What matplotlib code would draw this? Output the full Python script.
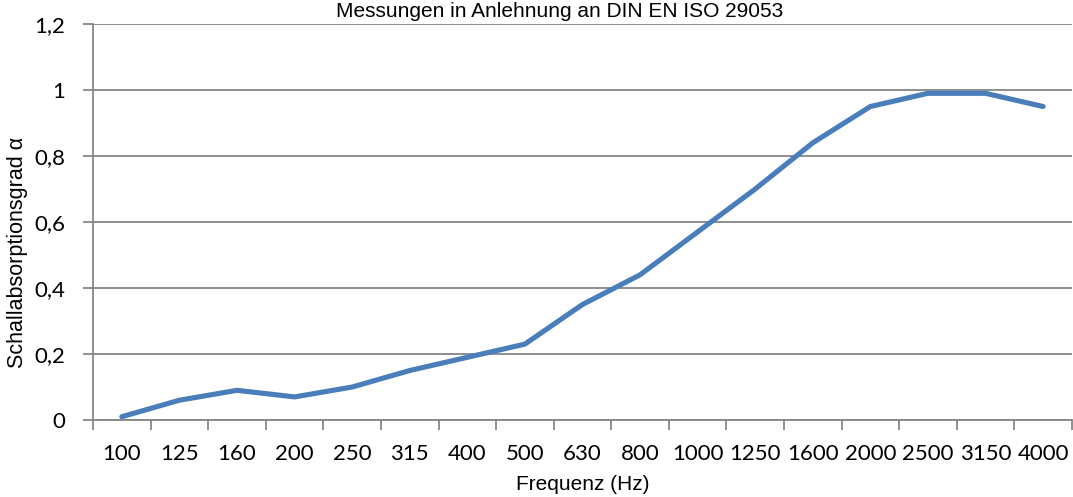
import matplotlib
matplotlib.use("Agg")
import matplotlib.pyplot as plt
from matplotlib.ticker import FixedLocator, FuncFormatter

# Schallabsorptionsgrad je Terzband
freqs = ["100", "125", "160", "200", "250", "315", "400", "500", "630",
         "800", "1000", "1250", "1600", "2000", "2500", "3150", "4000"]
alpha = [0.01, 0.06, 0.09, 0.07, 0.10, 0.15, 0.19, 0.23, 0.35,
         0.44, 0.57, 0.70, 0.84, 0.95, 0.99, 0.99, 0.95]
y_ticks = [0, 0.2, 0.4, 0.6, 0.8, 1.0, 1.2]

_LINE = "#4a7ebb"
_GRID = "#868686"
_TICK_FONT = "Lato"
_TEXT_FONT = "Liberation Sans"

fig = plt.figure(figsize=(10.73, 4.97), dpi=100)
ax = fig.add_axes([0.0867, 0.1549, 0.9123, 0.7968])

xs = list(range(len(freqs)))
ax.plot(xs, alpha, color=_LINE, linewidth=3.7, solid_joinstyle="round",
        solid_capstyle="round", zorder=3)

ax.set_xlim(-0.5, len(freqs) - 0.5)
ax.set_ylim(0, 1.2)

# category labels centred, tick marks between categories (Excel style)
ax.set_xticks(xs, freqs)
ax.xaxis.set_minor_locator(FixedLocator([i - 0.5 for i in range(len(freqs) + 1)]))
ax.tick_params(axis="x", which="major", length=0, pad=17)
ax.tick_params(axis="x", which="minor", length=7, width=1.3, color=_GRID, direction="out")
ax.set_yticks(y_ticks)
ax.yaxis.set_major_formatter(FuncFormatter(lambda v, _: f"{v:g}".replace(".", ",")))
ax.tick_params(axis="y", length=7, width=1.3, color=_GRID, direction="out", pad=13)
for lab in ax.get_xticklabels() + ax.get_yticklabels():
    lab.set_fontfamily(_TICK_FONT)
    lab.set_fontsize(16)

ax.grid(axis="y", color=_GRID, linewidth=1.3)
ax.set_axisbelow(True)
for side in ("top", "right"):
    ax.spines[side].set_visible(False)
ax.spines["left"].set_color(_GRID)
ax.spines["left"].set_linewidth(1.3)
ax.spines["bottom"].set_color(_GRID)
ax.spines["bottom"].set_linewidth(1.3)

ax.set_xlabel("Frequenz (Hz)", fontfamily=_TEXT_FONT, fontsize=15, labelpad=8)
# y label sits a little below the axis centre in the original
fig.text(18 / 1073, 1 - 252 / 497, "Schallabsorptionsgrad α", rotation=90,
         ha="center", va="center", fontfamily=_TEXT_FONT, fontsize=15.5)
fig.text(0.522, 0.966, "Messungen in Anlehnung an DIN EN ISO 29053",
         ha="center", va="baseline", fontfamily=_TEXT_FONT, fontsize=15)

fig.savefig("out.png", dpi=100, facecolor="white")
